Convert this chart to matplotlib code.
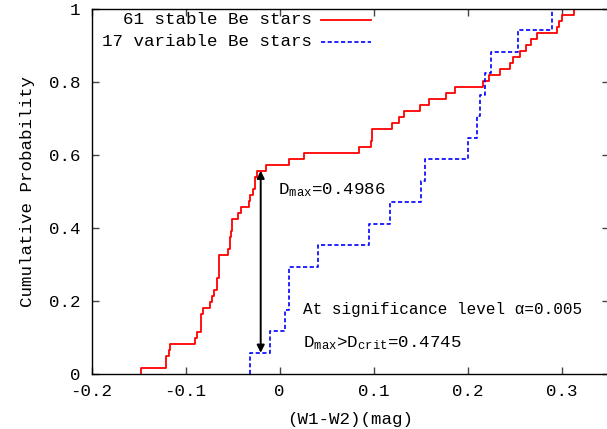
import numpy as np
import matplotlib
matplotlib.use("Agg")
import matplotlib.pyplot as plt

# (W1-W2) values
stable_w12 = [-0.147, -0.121, -0.121, -0.118, -0.117, -0.090, -0.088, -0.083, -0.083, -0.083,
              -0.081, -0.074, -0.072, -0.070, -0.066, -0.066, -0.064, -0.064, -0.064, -0.064,
              -0.055, -0.053, -0.053, -0.052, -0.051, -0.051, -0.044, -0.041, -0.032, -0.031,
              -0.028, -0.026, -0.026, -0.024, -0.014, 0.010, 0.026, 0.085, 0.097, 0.098,
              0.098, 0.120, 0.127, 0.132, 0.149, 0.159, 0.177, 0.187, 0.216, 0.223,
              0.235, 0.245, 0.248, 0.256, 0.262, 0.268, 0.274, 0.295, 0.297, 0.300,
              0.313]
variable_w12 = [-0.031, -0.010, 0.006, 0.010, 0.010, 0.041, 0.095, 0.118, 0.150, 0.155,
                0.200, 0.210, 0.213, 0.219, 0.225, 0.254, 0.290]

d_max_x = -0.020
d_max_low = 1.0 / 17
d_max_high = 34.0 / 61

xticks = [-0.2, -0.1, 0, 0.1, 0.2, 0.3]
xticklabels = ["-0.2", "-0.1", "0", "0.1", "0.2", "0.3"]
yticks = [0, 0.2, 0.4, 0.6, 0.8, 1]
yticklabels = ["0", "0.2", "0.4", "0.6", "0.8", "1"]

MONO = ["Liberation Mono", "DejaVu Sans Mono", "DejaVu Sans"]
plt.rcParams["font.family"] = MONO
plt.rcParams["mathtext.fontset"] = "custom"
plt.rcParams["mathtext.rm"] = "Liberation Mono"
plt.rcParams["mathtext.it"] = "Liberation Mono"
plt.rcParams["mathtext.tt"] = "Liberation Mono"
FS = 12.6


def ecdf(vals, xend):
    v = np.sort(np.asarray(vals, dtype=float))
    n = len(v)
    x = np.concatenate([[v[0]], v, [xend]])
    y = np.concatenate([[0.0], np.arange(1, n + 1) / n, [1.0]])
    return x, y


def main():
    W, H = 607, 429
    fig = plt.figure(figsize=(W / 100, H / 100), dpi=100)
    left, right, top, bottom = 91.5, 608.5, 9.0, 374.3
    ax = fig.add_axes([left / W, (H - bottom) / H, (right - left) / W, (bottom - top) / H])

    xs, ys = ecdf(stable_w12, 0.4)
    ax.step(xs, ys, where="post", color="#ff0000", lw=1.3)
    xv, yv = ecdf(variable_w12, 0.4)
    ax.step(xv, yv, where="post", color="#0000ff", lw=1.2, ls=(0, (2.5, 1.5)))

    ax.annotate("", xy=(d_max_x, d_max_low), xytext=(d_max_x, d_max_high),
                arrowprops=dict(arrowstyle="<|-|>", color="black", lw=1.4,
                                mutation_scale=11, shrinkA=0, shrinkB=0))

    ax.text(-0.0016, 0.504, r"D$_{\mathrm{max}}$=0.4986", fontsize=FS, va="center", ha="left")
    ax.text(0.025, 0.177, "At significance level α=0.005", fontsize=11.5, va="center",
            ha="left", family=MONO)
    ax.text(0.025, 0.085, r"D$_{\mathrm{max}}$>D$_{\mathrm{crit}}$=0.4745", fontsize=FS,
            va="center", ha="left")

    # legend, gnuplot style: right-aligned text, sample line after it
    ax.text(0.0346, 0.970, "61 stable Be stars", fontsize=FS, va="center", ha="right")
    ax.text(0.0346, 0.910, "17 variable Be stars", fontsize=FS, va="center", ha="right")
    ax.plot([0.0445, 0.0975], [0.970, 0.970], color="#ff0000", lw=1.3)
    ax.plot([0.0445, 0.0975], [0.910, 0.910], color="#0000ff", lw=1.2, ls=(0, (2.5, 1.5)))

    ax.set_xlim(-0.2, 0.35)
    ax.set_ylim(0, 1)
    ax.set_xticks(xticks)
    ax.set_xticklabels(xticklabels)
    ax.set_yticks(yticks)
    ax.set_yticklabels(yticklabels)
    ax.tick_params(direction="in", length=5, width=1, labelsize=FS, top=True, right=True,
                   color="#444444")
    ax.tick_params(axis="x", pad=7)
    ax.tick_params(axis="y", pad=8)
    for s in ax.spines.values():
        s.set_linewidth(1.0)
        s.set_color("black")

    ax.set_xlabel("(W1-W2)(mag)", fontsize=FS, labelpad=9)
    ax.set_ylabel("Cumulative Probability", fontsize=FS, labelpad=10)

    fig.savefig("out.png", dpi=100)


if __name__ == "__main__":
    main()
